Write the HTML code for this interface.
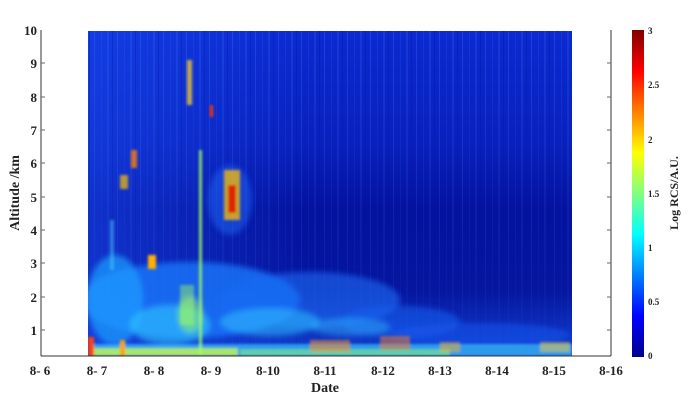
<!DOCTYPE html>
<html><head><meta charset="utf-8"><style>
body{margin:0;background:#fff;}
svg{display:block;font-family:"Liberation Serif",serif;font-weight:bold;}
</style></head><body>
<svg width="695" height="401" viewBox="0 0 695 401" xmlns="http://www.w3.org/2000/svg">
<defs>
<linearGradient id="bg" x1="0" y1="0" x2="0" y2="1">
<stop offset="0" stop-color="#0b2ad0"/>
<stop offset="0.35" stop-color="#0920bc"/>
<stop offset="0.55" stop-color="#04129e"/>
<stop offset="0.8" stop-color="#06169f"/>
<stop offset="1" stop-color="#1240d0"/>
</linearGradient>
<linearGradient id="cb" x1="0" y1="1" x2="0" y2="0">
<stop offset="0" stop-color="#00008f"/>
<stop offset="0.125" stop-color="#0000ff"/>
<stop offset="0.375" stop-color="#00ffff"/>
<stop offset="0.625" stop-color="#ffff00"/>
<stop offset="0.875" stop-color="#ff0000"/>
<stop offset="1" stop-color="#800000"/>
</linearGradient>
<linearGradient id="lft" x1="0" y1="0" x2="1" y2="0">
<stop offset="0" stop-color="#1a4cf0" stop-opacity="0.55"/>
<stop offset="0.45" stop-color="#1a4cf0" stop-opacity="0"/>
</linearGradient>
<linearGradient id="sf" x1="0" y1="0" x2="0" y2="1">
<stop offset="0" stop-color="#fff" stop-opacity="1"/>
<stop offset="0.5" stop-color="#fff" stop-opacity="0.6"/>
<stop offset="1" stop-color="#fff" stop-opacity="0.15"/>
</linearGradient>
<mask id="sm"><rect x="88" y="31" width="484" height="325" fill="url(#sf)"/></mask>
<pattern id="streak" width="23" height="330" patternUnits="userSpaceOnUse">
<rect x="2" y="0" width="1" height="330" fill="#3a70ff" opacity="0.35"/>
<rect x="9" y="0" width="1" height="330" fill="#2a60ff" opacity="0.25"/>
<rect x="15" y="0" width="2" height="330" fill="#4080ff" opacity="0.2"/>
<rect x="20" y="0" width="1" height="330" fill="#0010a0" opacity="0.3"/>
</pattern>
<filter id="bl" x="-20%" y="-20%" width="140%" height="140%"><feGaussianBlur stdDeviation="3"/></filter>
<filter id="bl2"><feGaussianBlur stdDeviation="1.2"/></filter>
<clipPath id="cp"><rect x="88" y="31" width="484" height="325"/></clipPath>
</defs>
<g clip-path="url(#cp)">
<rect x="88" y="31" width="484" height="325" fill="url(#bg)"/>
<rect x="88" y="31" width="484" height="325" fill="url(#lft)"/>
<rect x="88" y="31" width="484" height="325" fill="url(#streak)" mask="url(#sm)"/>
<g filter="url(#bl)">
<ellipse cx="190" cy="300" rx="110" ry="38" fill="#1d7cff" opacity="0.75"/>
<ellipse cx="310" cy="300" rx="90" ry="28" fill="#1a6cf5" opacity="0.6"/>
<ellipse cx="400" cy="322" rx="60" ry="16" fill="#1860f0" opacity="0.55"/>
<ellipse cx="480" cy="335" rx="90" ry="12" fill="#1858ee" opacity="0.55"/>
<ellipse cx="115" cy="300" rx="28" ry="45" fill="#20a0ff" opacity="0.7"/>
<ellipse cx="170" cy="325" rx="40" ry="20" fill="#30d0ff" opacity="0.55"/>
<ellipse cx="270" cy="322" rx="50" ry="14" fill="#30c0ff" opacity="0.55"/>
<ellipse cx="350" cy="327" rx="40" ry="9" fill="#30b8ff" opacity="0.45"/>
<ellipse cx="230" cy="200" rx="22" ry="35" fill="#2070ff" opacity="0.45"/>
<ellipse cx="190" cy="315" rx="12" ry="18" fill="#a0ff60" opacity="0.5"/>
</g>
<g filter="url(#bl2)">
<rect x="88" y="344" width="484" height="12" fill="#40d8ff" opacity="0.6"/>
<rect x="88" y="348" width="150" height="8" fill="#d0ff40" opacity="0.75"/>
<rect x="240" y="349" width="210" height="7" fill="#90ff70" opacity="0.5"/>
<rect x="199" y="150" width="3" height="206" fill="#a0ff60" opacity="0.8"/>
<rect x="88" y="337" width="6" height="19" fill="#ff4010"/>
<rect x="120" y="340" width="5" height="16" fill="#ffa000"/>
<rect x="224" y="170" width="16" height="50" fill="#ffc000" opacity="0.75"/>
<rect x="228" y="185" width="8" height="28" fill="#e02000"/>
<rect x="187" y="60" width="5" height="45" fill="#ffd020" opacity="0.75"/>
<rect x="148" y="255" width="8" height="14" fill="#ffb000"/>
<rect x="131" y="150" width="6" height="18" fill="#ff8000" opacity="0.8"/>
<rect x="120" y="175" width="8" height="14" fill="#ffc000" opacity="0.7"/>
<rect x="210" y="105" width="3" height="12" fill="#ff3000"/>
<rect x="310" y="340" width="40" height="12" fill="#ff9020" opacity="0.55"/>
<rect x="380" y="336" width="30" height="14" fill="#ff8020" opacity="0.5"/>
<rect x="440" y="342" width="20" height="10" fill="#ffb020" opacity="0.5"/>
<rect x="540" y="342" width="30" height="10" fill="#ffd040" opacity="0.5"/>
<rect x="110" y="220" width="4" height="50" fill="#50d0ff" opacity="0.5"/>
<rect x="180" y="285" width="14" height="40" fill="#a0ff60" opacity="0.45"/>
</g>
</g>
<g stroke="#333" stroke-width="1" fill="none">
<line x1="41" y1="30" x2="41" y2="356"/>
<line x1="41" y1="356" x2="611" y2="356"/>
<line x1="611" y1="30" x2="611" y2="356"/>
</g>
<g stroke="#666" stroke-width="1">
<line x1="41" y1="63" x2="45" y2="63"/><line x1="41" y1="97" x2="45" y2="97"/><line x1="41" y1="130" x2="45" y2="130"/>
<line x1="41" y1="163" x2="45" y2="163"/><line x1="41" y1="197" x2="45" y2="197"/><line x1="41" y1="230" x2="45" y2="230"/>
<line x1="41" y1="263" x2="45" y2="263"/><line x1="41" y1="297" x2="45" y2="297"/><line x1="41" y1="330" x2="45" y2="330"/>
<line x1="611" y1="63" x2="607" y2="63"/><line x1="611" y1="97" x2="607" y2="97"/><line x1="611" y1="130" x2="607" y2="130"/>
<line x1="611" y1="163" x2="607" y2="163"/><line x1="611" y1="197" x2="607" y2="197"/><line x1="611" y1="230" x2="607" y2="230"/>
<line x1="611" y1="263" x2="607" y2="263"/><line x1="611" y1="297" x2="607" y2="297"/><line x1="611" y1="330" x2="607" y2="330"/>
</g>
<g font-size="13" fill="#222" text-anchor="end">
<text x="37" y="35">10</text><text x="37" y="68">9</text><text x="37" y="102">8</text><text x="37" y="135">7</text>
<text x="37" y="168">6</text><text x="37" y="202">5</text><text x="37" y="235">4</text><text x="37" y="268">3</text>
<text x="37" y="302">2</text><text x="37" y="335">1</text>
</g>
<g font-size="13" fill="#222" text-anchor="middle">
<text x="40" y="375">8- 6</text><text x="97" y="375">8- 7</text><text x="154" y="375">8- 8</text><text x="211" y="375">8- 9</text>
<text x="268" y="375">8-10</text><text x="325" y="375">8-11</text><text x="383" y="375">8-12</text><text x="440" y="375">8-13</text>
<text x="497" y="375">8-14</text><text x="554" y="375">8-15</text><text x="611" y="375">8-16</text>
<text x="325" y="392" font-size="14">Date</text>
<text transform="translate(19,193) rotate(-90)" font-size="14">Altitude /km</text>
<text transform="translate(678,193) rotate(-90)" font-size="12">Log RCS/A.U.</text>
</g>
<rect x="632" y="30" width="12" height="327" fill="url(#cb)"/>
<g font-size="9" fill="#222">
<text x="648" y="34">3</text><text x="648" y="88">2.5</text><text x="648" y="143">2</text><text x="648" y="197">1.5</text>
<text x="648" y="251">1</text><text x="648" y="305">0.5</text><text x="648" y="359">0</text>
</g>
</svg>
</body></html>
